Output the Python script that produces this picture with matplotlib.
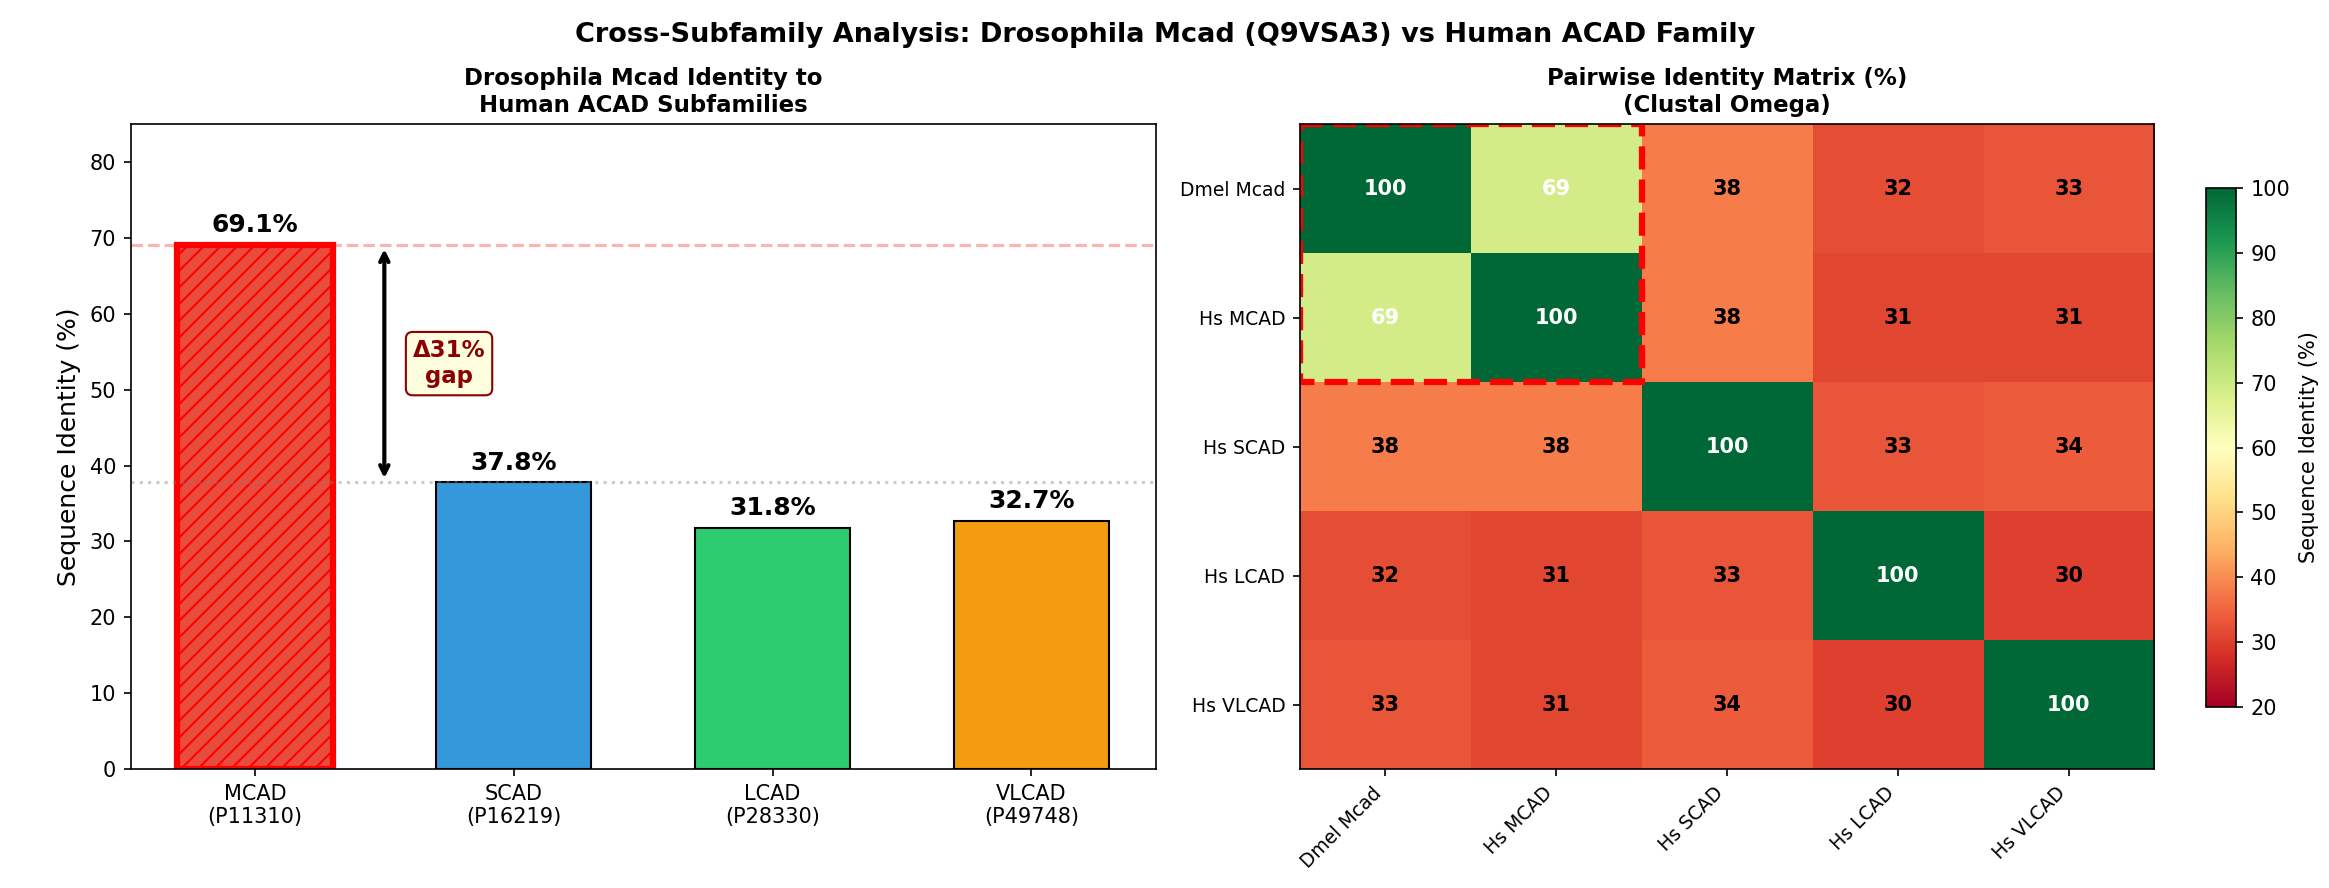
import numpy as np
import matplotlib
matplotlib.use('Agg')
import matplotlib.pyplot as plt
from matplotlib.patches import Rectangle

subfamilies = ['MCAD\n(P11310)', 'SCAD\n(P16219)', 'LCAD\n(P28330)', 'VLCAD\n(P49748)']
identity = [69.1, 37.8, 31.8, 32.7]
bar_colors = ['#e74c3c', '#3498db', '#2ecc71', '#f39c12']

matrix_labels = ['Dmel Mcad', 'Hs MCAD', 'Hs SCAD', 'Hs LCAD', 'Hs VLCAD']
matrix = np.array([
    [100, 69, 38, 32, 33],
    [69, 100, 38, 31, 31],
    [38, 38, 100, 33, 34],
    [32, 31, 33, 100, 30],
    [33, 31, 34, 30, 100],
])

fig = plt.figure(figsize=(15.53, 5.92), dpi=150)
ax1 = fig.add_axes([0.0561, 0.134, 0.440, 0.726])
ax2 = fig.add_axes([0.558, 0.134, 0.3667, 0.726])
cax = fig.add_axes([0.947, 0.204, 0.0128, 0.584])
fig.suptitle('Cross-Subfamily Analysis: Drosophila Mcad (Q9VSA3) vs Human ACAD Family',
             fontsize=13, fontweight='bold', y=0.975)

# Left: bar chart
x = np.arange(len(subfamilies))
bars = ax1.bar(x, identity, width=0.6, color=bar_colors, edgecolor='black', linewidth=1)
bars[0].set_edgecolor('red')
bars[0].set_linewidth(3)
bars[0].set_hatch('///')
for xi, v in zip(x, identity):
    ax1.text(xi, v + 1, f'{v}%', ha='center', va='bottom', fontsize=12, fontweight='bold')
ax1.axhline(identity[0], color='red', linestyle='--', alpha=0.3)
ax1.axhline(identity[1], color='gray', linestyle=':', alpha=0.4)
ax1.annotate('', xy=(0.5, identity[1]), xytext=(0.5, identity[0]),
             arrowprops=dict(arrowstyle='<->', color='black', lw=2))
ax1.text(0.75, (identity[0] + identity[1]) / 2, f'Δ{identity[0] - identity[1]:.0f}%\ngap',
         ha='center', va='center', fontsize=11, fontweight='bold', color='darkred',
         bbox=dict(boxstyle='round', facecolor='lightyellow', edgecolor='darkred'))
ax1.set_xticks(x)
ax1.set_xticklabels(subfamilies)
ax1.set_ylim(0, 85)
ax1.set_ylabel('Sequence Identity (%)', fontsize=12)
ax1.set_title('Drosophila Mcad Identity to\nHuman ACAD Subfamilies', fontsize=11, fontweight='bold')

# Right: heatmap
im = ax2.imshow(matrix, cmap='RdYlGn', vmin=20, vmax=100, aspect='auto')
for i in range(len(matrix_labels)):
    for j in range(len(matrix_labels)):
        val = matrix[i, j]
        ax2.text(j, i, f'{val}', ha='center', va='center', fontsize=10, fontweight='bold',
                 color='white' if val > 60 else 'black')
ax2.add_patch(Rectangle((-0.5, -0.5), 2, 2, fill=False, edgecolor='red',
                        linestyle='--', linewidth=3))
ax2.set_xticks(range(len(matrix_labels)))
ax2.set_yticks(range(len(matrix_labels)))
ax2.set_xticklabels(matrix_labels, rotation=45, ha='right', fontsize=9)
ax2.set_yticklabels(matrix_labels, fontsize=9)
ax2.set_title('Pairwise Identity Matrix (%)\n(Clustal Omega)', fontsize=11, fontweight='bold')
cbar = fig.colorbar(im, cax=cax)
cbar.set_label('Sequence Identity (%)')

plt.savefig('out.png', dpi=150)
